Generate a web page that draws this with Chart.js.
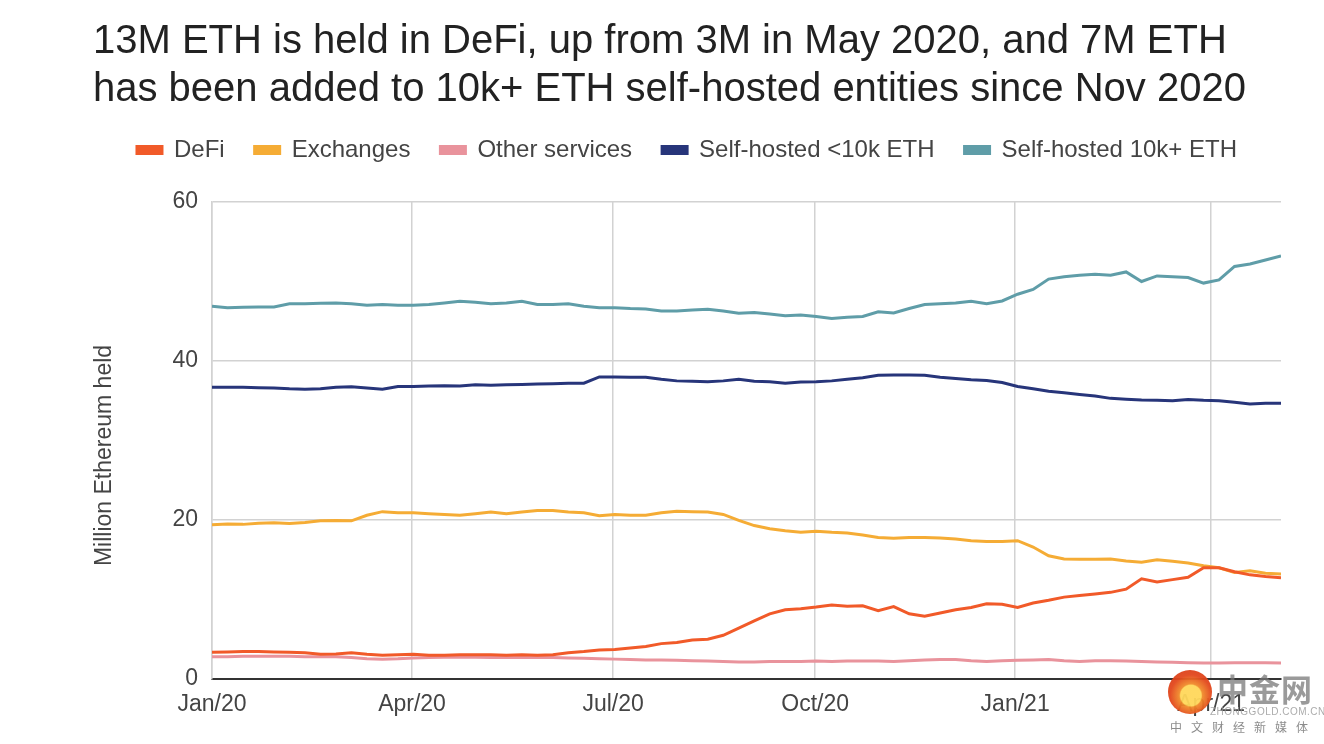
<!DOCTYPE html>
<html>
<head>
<meta charset="utf-8">
<script src="https://cdn.jsdelivr.net/npm/chart.js@4.4.1/dist/chart.umd.min.js"></script>
<style>
html, body { margin: 0; padding: 0; background: #ffffff; }
#wrap { position: relative; width: 1324px; height: 744px; overflow: hidden; }
canvas { display: block; }
.wm-logo { position: absolute; left: 1168px; top: 670px; width: 44px; height: 44px; border-radius: 50%;
  background: radial-gradient(circle at 52% 58%, #ffd75a 0 30%, #f08a2a 34%, #e2471c 60%, #d23a16 100%); opacity: 0.95; }
.wm-name { position: absolute; left: 1217px; top: 670px; font: bold 31px "Noto Sans CJK SC", sans-serif; color: rgba(120,120,120,0.75); letter-spacing: 1px; line-height: 36px; }
.wm-url { position: absolute; left: 1210px; top: 706px; font: 10px "Liberation Sans", Arial, sans-serif; color: rgba(150,150,150,0.8); letter-spacing: 0.5px; }
.wm-sub { position: absolute; left: 1170px; top: 718px; font: 12px "Noto Sans CJK SC", sans-serif; color: rgba(120,120,120,0.85); letter-spacing: 9px; }
</style>
</head>
<body>
<div id="wrap">
  <canvas id="c" width="1324" height="744"></canvas>
  <div class="wm-logo"></div>
  <div class="wm-name">中金网</div>
  <div class="wm-url">ZHONGGOLD.COM.CN</div>
  <div class="wm-sub">中文财经新媒体</div>
</div>
<script>
// ---- Data (million ETH held, weekly from Jan 2020) ----
const titleLines = [
  '13M ETH is held in DeFi, up from 3M in May 2020, and 7M ETH',
  'has been added to 10k+ ETH self-hosted entities since Nov 2020'
];
const yAxisTitle = 'Million Ethereum held';
const seriesNames = ['DeFi', 'Exchanges', 'Other services', 'Self-hosted <10k ETH', 'Self-hosted 10k+ ETH'];
const seriesColors = ['#f15a29', '#f5ac35', '#e9939c', '#27357a', '#5f9da8'];

const tickLabels = ['Jan/20', 'Apr/20', 'Jul/20', 'Oct/20', 'Jan/21', 'Apr/21'];
const tickWeeks = [0, 12.91, 25.89, 38.93, 51.84, 64.49];
const yTicks = [0, 20, 40, 60];

const defi = [
  3.35, 3.4, 3.45, 3.45, 3.4, 3.35, 3.3, 3.1, 3.15, 3.3,
  3.1, 3.0, 3.05, 3.1, 3.0, 3.0, 3.05, 3.05, 3.05, 3.0,
  3.05, 3.0, 3.05, 3.3, 3.45, 3.65, 3.7, 3.9, 4.1, 4.45,
  4.6, 4.9, 5.0, 5.5, 6.4, 7.3, 8.2, 8.7, 8.85, 9.05,
  9.3, 9.15, 9.2, 8.6, 9.1, 8.2, 7.9, 8.3, 8.7, 9.0,
  9.45, 9.4, 9.0, 9.55, 9.9, 10.3, 10.5, 10.7, 10.9, 11.3,
  12.6, 12.2, 12.5, 12.8, 14.0, 14.0, 13.5, 13.1, 12.9, 12.75
];
const exchanges = [
  19.4, 19.5, 19.45, 19.6, 19.65, 19.55, 19.7, 19.9, 19.95, 19.9,
  20.6, 21.05, 20.9, 20.9, 20.8, 20.7, 20.6, 20.8, 21.0, 20.8,
  21.0, 21.2, 21.2, 21.0, 20.9, 20.55, 20.7, 20.6, 20.6, 20.9,
  21.1, 21.05, 21.0, 20.7, 19.95, 19.3, 18.9, 18.65, 18.45, 18.6,
  18.45, 18.35, 18.1, 17.8, 17.7, 17.8, 17.8, 17.75, 17.6, 17.4,
  17.3, 17.3, 17.4, 16.6, 15.5, 15.1, 15.05, 15.05, 15.1, 14.85,
  14.7, 15.0, 14.8, 14.6, 14.25, 14.0, 13.4, 13.6, 13.3, 13.2
];
const otherServices = [
  2.8, 2.8, 2.85, 2.85, 2.85, 2.85, 2.8, 2.8, 2.8, 2.7,
  2.55, 2.5, 2.55, 2.65, 2.7, 2.75, 2.75, 2.75, 2.7, 2.75,
  2.7, 2.7, 2.7, 2.65, 2.6, 2.55, 2.5, 2.45, 2.4, 2.4,
  2.35, 2.3, 2.25, 2.2, 2.15, 2.15, 2.2, 2.2, 2.2, 2.25,
  2.2, 2.25, 2.25, 2.25, 2.2, 2.3, 2.4, 2.45, 2.45, 2.3,
  2.2, 2.3, 2.35, 2.4, 2.45, 2.3, 2.2, 2.3, 2.3, 2.25,
  2.2, 2.15, 2.1, 2.05, 2.0, 2.0, 2.05, 2.05, 2.05, 2.0
];
const selfHostedSmall = [
  36.7, 36.7, 36.7, 36.65, 36.6, 36.5, 36.45, 36.5, 36.7, 36.75,
  36.6, 36.45, 36.8, 36.8, 36.85, 36.9, 36.85, 37.0, 36.95, 37.0,
  37.05, 37.1, 37.15, 37.2, 37.2, 38.0, 38.0, 37.95, 37.95, 37.7,
  37.5, 37.45, 37.4, 37.5, 37.7, 37.45, 37.4, 37.2, 37.35, 37.4,
  37.5, 37.7, 37.9, 38.2, 38.25, 38.25, 38.2, 37.95, 37.8, 37.65,
  37.55, 37.3, 36.8, 36.5, 36.2, 36.0, 35.8, 35.6, 35.3, 35.2,
  35.1, 35.05, 35.0, 35.15, 35.05, 35.0, 34.8, 34.6, 34.7, 34.7
];
const selfHostedLarge = [
  46.9, 46.7, 46.75, 46.8, 46.8, 47.2, 47.2, 47.25, 47.3, 47.2,
  47.0, 47.1, 47.0, 47.0, 47.1, 47.3, 47.5, 47.4, 47.2, 47.3,
  47.5, 47.1, 47.1, 47.2, 46.9, 46.7, 46.7, 46.6, 46.55, 46.3,
  46.3, 46.4, 46.5, 46.3, 46.0, 46.1, 45.9, 45.7, 45.8, 45.6,
  45.35, 45.5, 45.6, 46.2, 46.05, 46.6, 47.1, 47.2, 47.3, 47.5,
  47.2, 47.55, 48.4, 49.0, 50.3, 50.6, 50.8, 50.9, 50.8, 51.2,
  50.0, 50.7, 50.6, 50.5, 49.8, 50.2, 51.9, 52.2, 52.7, 53.2
];

const allSeries = [defi, exchanges, otherServices, selfHostedSmall, selfHostedLarge];
const FONT = '"Liberation Sans", Arial, sans-serif';

const datasets = allSeries.map((vals, s) => ({
  label: seriesNames[s],
  data: vals.map((v, i) => ({ x: i, y: v })),
  borderColor: seriesColors[s],
  backgroundColor: seriesColors[s],
  borderWidth: 3,
  pointRadius: 0,
  pointHoverRadius: 0,
  tension: 0,
  fill: false
}));

// extra space between legend and plot area
const legendGap = {
  id: 'legendGap',
  beforeLayout(chart) {
    const lg = chart.legend;
    if (lg && !lg._gapPatched) {
      const f = lg.fit;
      lg.fit = function () { f.call(this); this.height += 30; };
      lg._gapPatched = true;
    }
  }
};

// y-axis title, drawn a little below the plot's vertical centre as in the source
const yTitlePlugin = {
  id: 'yTitlePlugin',
  afterDraw(chart) {
    const { ctx, chartArea } = chart;
    ctx.save();
    ctx.translate(chartArea.left - 107, (chartArea.top + chartArea.bottom) / 2 + 15);
    ctx.rotate(-Math.PI / 2);
    ctx.fillStyle = '#444444';
    ctx.font = '23px ' + FONT;
    ctx.textAlign = 'center';
    ctx.textBaseline = 'middle';
    ctx.fillText(yAxisTitle, 0, 0);
    ctx.restore();
  }
};

new Chart(document.getElementById('c'), {
  type: 'line',
  data: { datasets },
  plugins: [legendGap, yTitlePlugin],
  options: {
    responsive: false,
    animation: false,
    layout: { padding: { left: 93, right: 43, top: 0, bottom: 25 } },
    plugins: {
      tooltip: { enabled: false },
      title: {
        display: true,
        text: titleLines,
        align: 'start',
        color: '#222222',
        font: { family: FONT, size: 40, weight: 'normal', lineHeight: 1.2 },
        padding: { top: 18, bottom: -6 }
      },
      legend: {
        display: true,
        position: 'top',
        align: 'center',
        labels: {
          boxWidth: 25,
          boxHeight: 7,
          padding: 30,
          color: '#444444',
          font: { family: FONT, size: 24 }
        }
      }
    },
    scales: {
      x: {
        type: 'linear',
        min: 0,
        max: defi.length - 1,
        afterFit(scale) { scale.height = 40; },
        afterBuildTicks(scale) { scale.ticks = tickWeeks.map(v => ({ value: v })); },
        ticks: {
          autoSkip: false,
          maxRotation: 0,
          padding: 12,
          color: '#444444',
          font: { family: FONT, size: 23 },
          callback: (v, i) => tickLabels[i]
        },
        grid: { color: '#d2d2d2', lineWidth: 1.5, drawTicks: false },
        border: { display: true, color: '#333333', width: 2 }
      },
      y: {
        min: 0,
        max: 60,
        afterFit(scale) { scale.width = 119; },
        afterBuildTicks(scale) { scale.ticks = yTicks.map(v => ({ value: v })); },
        ticks: {
          padding: 14,
          color: '#444444',
          font: { family: FONT, size: 23 },
          callback: v => String(v)
        },
        grid: { color: '#d2d2d2', lineWidth: 1.5, drawTicks: false },
        border: { display: true, color: '#d2d2d2', width: 1.5 },
        title: { display: false }
      }
    }
  }
});
</script>
</body>
</html>
